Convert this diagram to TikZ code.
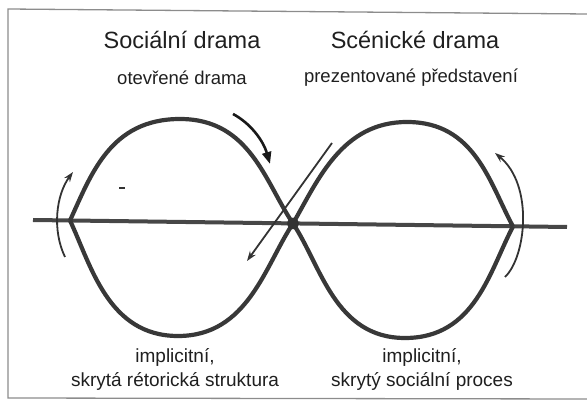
\documentclass[tikz,border=0pt]{standalone}
\usepackage{fontspec}
\setmainfont{Liberation Sans}
\usetikzlibrary{arrows.meta}
\begin{document}
\begin{tikzpicture}[x=1pt,y=-1pt,
  lobe/.style={line width=4.2pt,draw=black!78},
  axisline/.style={line width=4pt,draw=black!72},
  frameline/.style={line width=1.3pt,draw=black!45},
  bigarrow/.style={line width=2.6pt,draw=black!90,-{Triangle[length=12pt,width=9pt]}},
  thinarrow/.style={line width=1.8pt,draw=black!80,-{Stealth[length=10pt,width=7pt]}},
  title/.style={font=\fontsize{23.5}{27}\selectfont,text=black!88,inner sep=0pt},
  subtitle/.style={font=\fontsize{18.5}{22}\selectfont,text=black!88,inner sep=0pt},
  bottomtext/.style={font=\fontsize{19}{24}\selectfont,text=black!88,inner sep=0pt,align=center}]
\useasboundingbox (0,0) rectangle (587,403);
% frame (open on the right)
\coordinate (f1) at (587,14);
\coordinate (f2) at (8,9);
\coordinate (f3) at (8,398);
\coordinate (f4) at (587,399);
\draw[frameline] (f1) -- (f2) -- (f3) -- (f4);
% key points
\coordinate (A1) at (33,220);
\coordinate (A2) at (567,227);
\coordinate (L) at (70,220.5);
\coordinate (C) at (293,223.5);
\coordinate (R) at (513,226.5);
\coordinate (TL) at (180,119);
\coordinate (BL) at (178,336);
\coordinate (TR) at (407,122);
\coordinate (BR) at (405,338);
% horizontal axis
\draw[axisline] (A1) -- (A2);
% figure eight
\draw[lobe] (L) .. controls (91,175) and (110,119) .. (TL)
  .. controls (250,119) and (265,182) .. (C)
  .. controls (321,265.5) and (335,338) .. (BR)
  .. controls (475,338) and (489.5,271) .. (R);
\draw[lobe] (L) .. controls (91,265) and (108,336) .. (BL)
  .. controls (248,336) and (265,265.5) .. (C)
  .. controls (318,180) and (342,122) .. (TR)
  .. controls (475,122) and (489.5,183) .. (R);
\fill[black!80] (C) circle (5.8pt);
% arrows
\coordinate (ta1) at (233,114);
\coordinate (ta2) at (270,164);
\draw[bigarrow] (ta1) .. controls (250,123) and (263,140) .. (ta2);
\coordinate (da1) at (332,143);
\coordinate (da2) at (247,261);
\draw[thinarrow] (da1) -- (da2);
\coordinate (la1) at (65,257);
\coordinate (la2) at (73,172);
\draw[thinarrow] (la1) .. controls (52,230) and (56,195) .. (la2);
\coordinate (ra1) at (505,277);
\coordinate (ra2) at (495,153);
\draw[thinarrow] (ra1) .. controls (526,257) and (534,185) .. (ra2);
% small mark
\coordinate (m1) at (119,188);
\coordinate (m2) at (125,188);
\draw[line width=1.6pt,black!80] (m1) -- (m2);
% texts
\node[title] (t1) at (182,40) {Sociální drama};
\node[title] (t2) at (415,40) {Scénické drama};
\node[subtitle] (s1) at (182,78) {otevřené drama};
\node[subtitle] (s2) at (411,78) {prezentované představení};
\node[bottomtext] (b1) at (175,369) {implicitní,\\skrytá rétorická struktura};
\node[bottomtext] (b2) at (422,369) {implicitní,\\skrytý sociální proces};
\end{tikzpicture}
\end{document}
